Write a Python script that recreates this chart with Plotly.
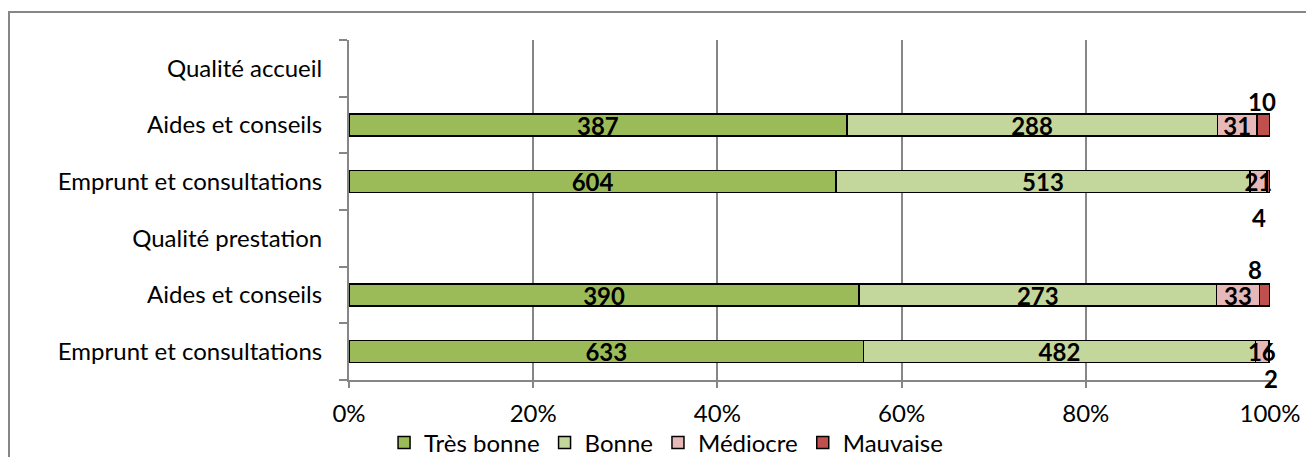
import plotly.graph_objects as go

# Data (bottom to top)
categories = ["Emprunt et consultations", "Aides et conseils", "Qualité prestation",
              "Emprunt et consultations", "Aides et conseils", "Qualité accueil"]
tres_bonne = [633, 390, None, 604, 387, None]
bonne = [482, 273, None, 513, 288, None]
mediocre = [16, 33, None, 21, 31, None]
mauvaise = [2, 8, None, 4, 10, None]
series_names = ["Très bonne", "Bonne", "Médiocre", "Mauvaise"]
x_ticks = [0, 20, 40, 60, 80, 100]

colors = ["#9BBB59", "#C3D69B", "#E6B9B8", "#C0504D"]
FONT = "Lato"
FS = 24

ypos = list(range(len(categories)))
series = [tres_bonne, bonne, mediocre, mauvaise]

fig = go.Figure()
for name, vals, col in zip(series_names, series, colors):
    show_text = name != "Mauvaise"
    fig.add_trace(go.Bar(
        y=ypos, x=vals, name=name, orientation="h",
        marker=dict(color=col, line=dict(color="black", width=1.5)),
        text=[("" if v is None else str(v)) for v in vals] if show_text else None,
        textposition="inside", insidetextanchor="middle", constraintext="none",
        textfont=dict(family=FONT, size=FS, color="black", weight="bold"),
        textangle=0,
        cliponaxis=False,
        hoverinfo="skip",
    ))

# Mauvaise labels placed above/below the bar (as in the source chart)
label_shift = {4: 24, 3: -36, 1: 26, 0: -27}
label_xshift = {4: -2, 3: -9, 1: -10, 0: 2}
for i in ypos:
    if mauvaise[i] is None:
        continue
    total = tres_bonne[i] + bonne[i] + mediocre[i] + mauvaise[i]
    start = (tres_bonne[i] + bonne[i] + mediocre[i]) / total * 100
    xc = start + mauvaise[i] / total * 100 / 2
    fig.add_annotation(x=xc, y=i, text=f"<b>{mauvaise[i]}</b>", showarrow=False,
                       yshift=label_shift.get(i, 0), xshift=label_xshift.get(i, 0),
                       font=dict(family=FONT, size=FS, color="black"))

W, H = 1306, 457
L, R, T, B = 349, 36, 40, 77
pw, ph = W - L - R, H - T - B

def px_x(p):
    return (p - L) / pw

def px_y(p):
    return (H - B - p) / ph

# Outer chart frame
fig.add_shape(type="rect", xref="paper", yref="paper",
              x0=px_x(9), x1=px_x(1340), y0=px_y(490), y1=px_y(12),
              line=dict(color="#868686", width=2), fillcolor="rgba(0,0,0,0)", layer="below")

fig.update_layout(
    width=W, height=H,
    margin=dict(l=L, r=R, t=T, b=B, autoexpand=False),
    barmode="stack", barnorm="percent", bargap=0.61,
    plot_bgcolor="white", paper_bgcolor="white",
    font=dict(family=FONT, size=FS, color="black"),
    showlegend=True,
    legend=dict(orientation="h", xref="container", x=0.51, xanchor="center",
                yref="container", y=(457 - 443) / 457, yanchor="middle",
                font=dict(family=FONT, size=FS, color="black"),
                itemwidth=30, tracegroupgap=0, traceorder="normal",
                bgcolor="rgba(0,0,0,0)"),
    xaxis=dict(range=[0, 100], tickvals=x_ticks, ticktext=[f"{v}%" for v in x_ticks],
               showgrid=True, gridcolor="#868686", gridwidth=1.5,
               showline=True, linecolor="#868686", linewidth=2,
               ticks="outside", ticklen=6, tickcolor="#868686", tickwidth=1.5,
               ticklabelstandoff=5, zeroline=False, automargin=False,
               tickfont=dict(family=FONT, size=FS, color="black")),
    yaxis=dict(range=[-0.5, len(categories) - 0.5], tickvals=ypos, ticktext=categories,
               showgrid=False, zeroline=False, automargin=False,
               showline=True, linecolor="#868686", linewidth=2,
               ticks="", ticklabelstandoff=20,
               minor=dict(tickmode="linear", tick0=-0.5, dtick=1, ticks="outside",
                          ticklen=8, tickcolor="#868686", tickwidth=1.5, showgrid=False),
               tickfont=dict(family=FONT, size=FS, color="black")),
)

fig.write_html("out.html", config={"displayModeBar": False})

# remove the browser's default page margin so the figure sits at the window origin
with open("out.html", encoding="utf-8") as f:
    html = f.read()
html = html.replace("<head>", "<head><style>html,body{margin:0;padding:0;overflow:hidden;}</style>", 1)
with open("out.html", "w", encoding="utf-8") as f:
    f.write(html)
